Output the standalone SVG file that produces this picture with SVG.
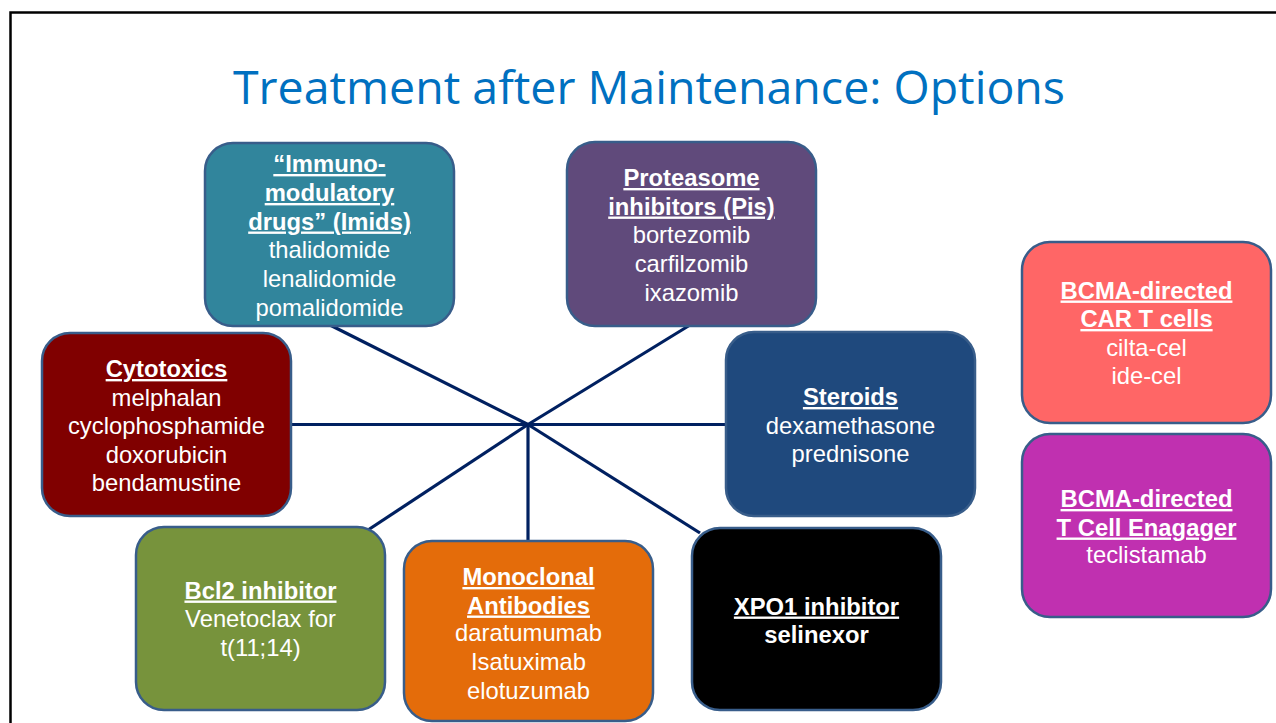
<svg xmlns="http://www.w3.org/2000/svg" width="1276" height="723" viewBox="0 0 1276 723">
  <style>
    .box { stroke: #385D8A; stroke-width: 2.5; }
    .t { font-family: "Liberation Sans", Arial, sans-serif; font-size: 23.8px; fill: #ffffff; text-anchor: middle; }
    .h { font-weight: bold; text-decoration: underline; }
    .b { font-weight: bold; }
    .wire { stroke: #002060; stroke-width: 3.2; fill: none; }
  </style>
  <rect width="1276" height="723" fill="#ffffff"/>
  <!-- slide frame -->
  <path d="M10.5 740 V12.5 H1290" fill="none" stroke="#000000" stroke-width="2.5"/>

  <text x="649" y="104" font-family="'Open Sans', 'Liberation Sans', sans-serif" font-size="45" fill="#0070C0" text-anchor="middle" textLength="832" lengthAdjust="spacingAndGlyphs">Treatment after Maintenance: Options</text>

  <g id="connectors">
    <line class="wire" x1="528" y1="424.5" x2="330" y2="325"/>
    <line class="wire" x1="528" y1="424.5" x2="690" y2="325"/>
    <line class="wire" x1="291" y1="424.5" x2="726" y2="424.5"/>
    <line class="wire" x1="528" y1="424.5" x2="368" y2="530"/>
    <line class="wire" x1="528" y1="424.5" x2="528" y2="541"/>
    <line class="wire" x1="528" y1="424.5" x2="700" y2="533"/>
  </g>

  <g id="imids">
    <rect class="box" x="205" y="143" width="249" height="183" rx="28" fill="#31859C"/>
    <text class="t h" x="329.5" y="172">“Immuno-</text>
    <text class="t h" x="329.5" y="201">modulatory</text>
    <text class="t h" x="329.5" y="229.5">drugs” (Imids)</text>
    <text class="t" x="329.5" y="258">thalidomide</text>
    <text class="t" x="329.5" y="287">lenalidomide</text>
    <text class="t" x="329.5" y="315.5">pomalidomide</text>
  </g>

  <g id="proteasome">
    <rect class="box" x="567" y="142" width="249" height="184" rx="28" fill="#604A7B"/>
    <text class="t h" x="691.5" y="186">Proteasome</text>
    <text class="t h" x="691.5" y="214.5">inhibitors (Pis)</text>
    <text class="t" x="691.5" y="243">bortezomib</text>
    <text class="t" x="691.5" y="272">carfilzomib</text>
    <text class="t" x="691.5" y="300.5">ixazomib</text>
  </g>

  <g id="cytotoxics">
    <rect class="box" x="42" y="333" width="249" height="183" rx="28" fill="#800000"/>
    <text class="t h" x="166.5" y="377">Cytotoxics</text>
    <text class="t" x="166.5" y="405.5">melphalan</text>
    <text class="t" x="166.5" y="434">cyclophosphamide</text>
    <text class="t" x="166.5" y="462.5">doxorubicin</text>
    <text class="t" x="166.5" y="491">bendamustine</text>
  </g>

  <g id="steroids">
    <rect class="box" x="726" y="332" width="249" height="184" rx="28" fill="#1F497D"/>
    <text class="t h" x="850.5" y="405">Steroids</text>
    <text class="t" x="850.5" y="433.5">dexamethasone</text>
    <text class="t" x="850.5" y="462">prednisone</text>
  </g>

  <g id="bcl2">
    <rect class="box" x="136" y="527" width="249" height="183" rx="28" fill="#77933C"/>
    <text class="t h" x="260.5" y="598.5">Bcl2 inhibitor</text>
    <text class="t" x="260.5" y="627">Venetoclax for</text>
    <text class="t" x="260.5" y="656">t(11;14)</text>
  </g>

  <g id="antibodies">
    <rect class="box" x="404" y="541" width="249" height="180" rx="28" fill="#E46C0A"/>
    <text class="t h" x="528.5" y="585">Monoclonal</text>
    <text class="t h" x="528.5" y="613.5">Antibodies</text>
    <text class="t" x="528.5" y="641">daratumumab</text>
    <text class="t" x="528.5" y="670">Isatuximab</text>
    <text class="t" x="528.5" y="698.5">elotuzumab</text>
  </g>

  <g id="xpo1">
    <rect class="box" x="692" y="528" width="249" height="182" rx="28" fill="#000000"/>
    <text class="t h" x="816.5" y="614.5">XPO1 inhibitor</text>
    <text class="t b" x="816.5" y="643">selinexor</text>
  </g>

  <g id="car-t">
    <rect class="box" x="1022" y="242" width="249" height="181" rx="28" fill="#FF6666"/>
    <text class="t h" x="1146.5" y="298.5">BCMA-directed</text>
    <text class="t h" x="1146.5" y="327">CAR T cells</text>
    <text class="t" x="1146.5" y="355.5">cilta-cel</text>
    <text class="t" x="1146.5" y="384">ide-cel</text>
  </g>

  <g id="t-cell-engager">
    <rect class="box" x="1022" y="434" width="249" height="183" rx="28" fill="#C030B0"/>
    <text class="t h" x="1146.5" y="507">BCMA-directed</text>
    <text class="t h" x="1146.5" y="535.5">T Cell Enagager</text>
    <text class="t" x="1146.5" y="563">teclistamab</text>
  </g>
</svg>
